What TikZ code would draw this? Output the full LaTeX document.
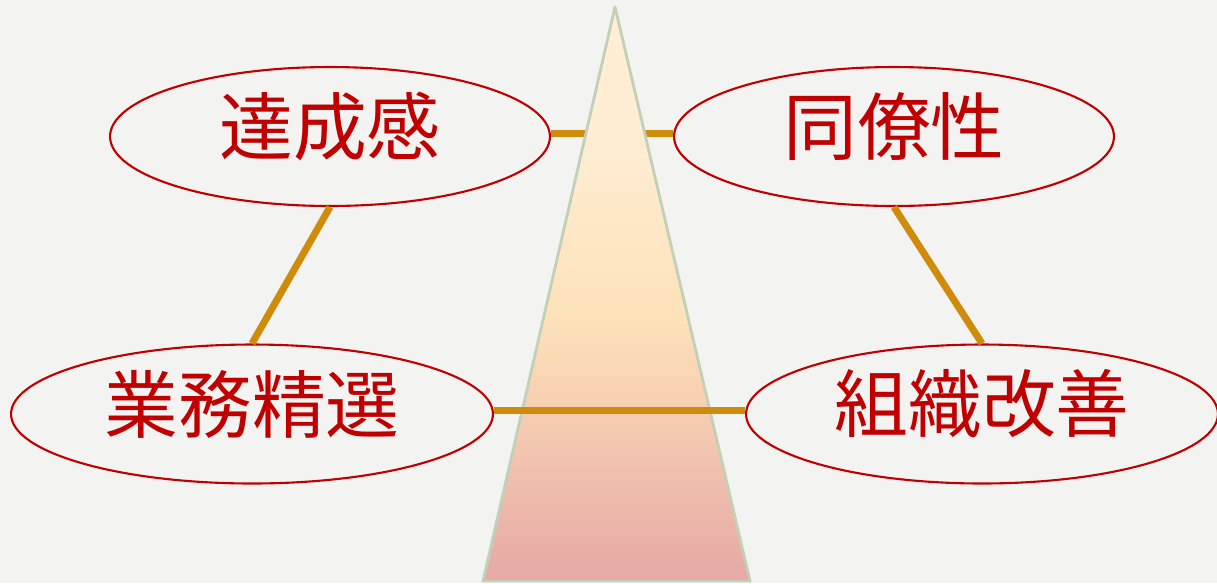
\documentclass[tikz,border=0pt]{standalone}
\usepackage{fontspec}
\newfontfamily\cjk{Noto Sans CJK JP}
\usepackage{xcolor}
\usetikzlibrary{shapes.geometric, positioning, calc}
\definecolor{bgcol}{RGB}{243,243,241}
\definecolor{redcol}{RGB}{192,0,0}
\definecolor{linkcol}{RGB}{207,140,10}
\definecolor{edgecol}{RGB}{195,208,184}
\definecolor{creamcol}{RGB}{255,237,212}
\definecolor{yelcol}{RGB}{253,226,185}
\definecolor{peachcol}{RGB}{247,206,178}
\definecolor{botcol}{RGB}{230,168,165}
\pgfdeclareverticalshading{tower}{100bp}{color(0bp)=(botcol); color(25bp)=(botcol);
  color(40bp)=(peachcol); color(48bp)=(yelcol); color(64bp)=(creamcol); color(100bp)=(creamcol)}
\newcommand{\lift}[1]{\raisebox{0.2cm}[\height][\depth]{#1}}

\begin{document}
\begin{tikzpicture}[x=0.02cm, y=-0.02cm,
  word/.style={ellipse, draw=redcol, line width=1.2pt, inner sep=0pt,
    minimum height=2.78cm, text=redcol, font=\cjk\fontsize{42}{50}\selectfont},
  link/.style={linkcol, line width=4pt}]
\fill[bgcol] (0,0) rectangle (1217,583);
\useasboundingbox (0,0) rectangle (1217,583);
\node[word, minimum width=8.8cm] at (330, 136.5) (tassei) {\lift{達成感}};
\node[word, minimum width=8.8cm] at (894, 136.5) (douryou) {\lift{同僚性}};
\node[word, minimum width=9.64cm] at (252, 414) (gyoumu) {\lift{業務精選}};
\node[word, minimum width=9.44cm] at (982, 414) (soshiki) {\lift{組織改善}};
\coordinate (apex) at (615, 7);
\coordinate (baseL) at (483, 581);
\coordinate (baseR) at (750, 581);
% top link passes behind the tower, bottom link in front
\draw[link] ([yshift=0.06cm]tassei.east) -- ([yshift=0.06cm]douryou.west);
\shade[shading=tower] (apex) -- (baseR) -- (baseL) -- cycle;
\draw[edgecol, line width=1.6pt, line join=round] (apex) -- (baseR) -- (baseL) -- cycle;
\draw[link] ([yshift=0.08cm]gyoumu.east) -- ([yshift=0.08cm]soshiki.west);
\draw[link] (tassei.south) -- (gyoumu.north);
\draw[link] (douryou.south) -- (soshiki.north);
\end{tikzpicture}
\end{document}
